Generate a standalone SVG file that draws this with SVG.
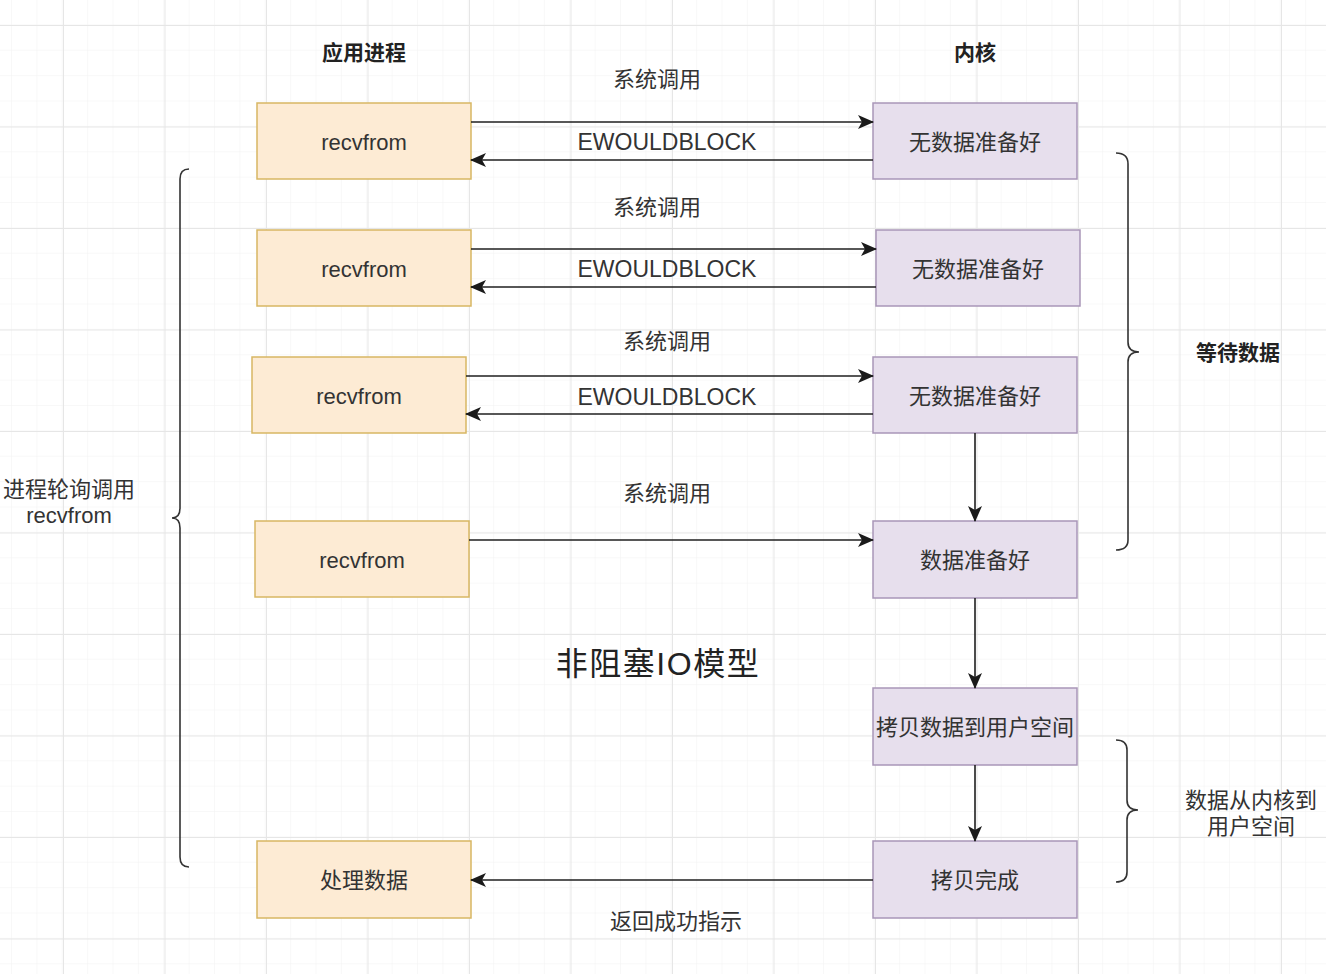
<svg xmlns="http://www.w3.org/2000/svg" width="1326" height="974" viewBox="0 0 1326 974">
<defs>
<pattern id="minor" x="12" y="0" width="25.375" height="25.375" patternUnits="userSpaceOnUse">
<path d="M25.375 0 V25.375 M0 25.375 H25.375" fill="none" stroke="#f2f2f2" stroke-width="1"/>
</pattern>
<pattern id="major" x="-38.5" y="25" width="101.5" height="101.5" patternUnits="userSpaceOnUse">
<path d="M0.5 0 V101.5 M0 0.5 H101.5" fill="none" stroke="#e6e6e6" stroke-width="1"/>
</pattern>
<marker id="arr" viewBox="0 0 16 14" refX="15" refY="7" markerWidth="16" markerHeight="14" markerUnits="userSpaceOnUse" orient="auto">
<path d="M0,0 L16,7 L0,14 L4,7 Z" fill="#1a1a1a"/>
</marker>
<style>
.app rect{fill:#fdebd4;stroke:#d7b763;stroke-width:1.5}
.ker rect{fill:#e7dfed;stroke:#a996b8;stroke-width:1.5}
text{font-family:"Liberation Sans","Noto Sans CJK SC",sans-serif;fill:#333;text-anchor:middle;dominant-baseline:central}
.n{font-size:22px}
.lbl{font-size:22px}
.big{font-size:23px}
.hd{font-size:21px;font-weight:bold;fill:#222}
.title{font-size:32px;letter-spacing:1.5px;fill:#222}
.edge{fill:none;stroke:#1f1f1f;stroke-width:1.6}
.brace{fill:none;stroke:#333;stroke-width:1.6}
</style>
</defs>
<rect width="1326" height="974" fill="#ffffff"/>
<rect width="1326" height="974" fill="url(#minor)"/>
<rect width="1326" height="974" fill="url(#major)"/>

<text class="hd" x="364" y="52">应用进程</text>
<text class="hd" x="975" y="52">内核</text>

<g id="app1" class="app"><rect x="257" y="103" width="214" height="76"/><text class="n" x="364" y="142">recvfrom</text></g>
<g id="app2" class="app"><rect x="257" y="230" width="214" height="76"/><text class="n" x="364" y="269">recvfrom</text></g>
<g id="app3" class="app"><rect x="252" y="357" width="214" height="76"/><text class="n" x="359" y="396">recvfrom</text></g>
<g id="app4" class="app"><rect x="255" y="521" width="214" height="76"/><text class="n" x="362" y="560">recvfrom</text></g>
<g id="app5" class="app"><rect x="257" y="841" width="214" height="77"/><text class="n" x="364" y="880">处理数据</text></g>

<g id="k1" class="ker"><rect x="873" y="103" width="204" height="76"/><text class="n" x="975" y="142">无数据准备好</text></g>
<g id="k2" class="ker"><rect x="876" y="230" width="204" height="76"/><text class="n" x="978" y="269">无数据准备好</text></g>
<g id="k3" class="ker"><rect x="873" y="357" width="204" height="76"/><text class="n" x="975" y="396">无数据准备好</text></g>
<g id="k4" class="ker"><rect x="873" y="521" width="204" height="77"/><text class="n" x="975" y="560">数据准备好</text></g>
<g id="k5" class="ker"><rect x="873" y="688" width="204" height="77"/><text class="n" x="975" y="727">拷贝数据到用户空间</text></g>
<g id="k6" class="ker"><rect x="873" y="841" width="204" height="77"/><text class="n" x="975" y="880">拷贝完成</text></g>

<g id="connectors">
<path class="edge" d="M471 122 H873" marker-end="url(#arr)"/>
<path class="edge" d="M873 160 H471" marker-end="url(#arr)"/>
<path class="edge" d="M471 249 H876" marker-end="url(#arr)"/>
<path class="edge" d="M876 287 H471" marker-end="url(#arr)"/>
<path class="edge" d="M466 376 H873" marker-end="url(#arr)"/>
<path class="edge" d="M873 414 H466" marker-end="url(#arr)"/>
<path class="edge" d="M469 540 H873" marker-end="url(#arr)"/>
<path class="edge" d="M975 433 V521" marker-end="url(#arr)"/>
<path class="edge" d="M975 598 V688" marker-end="url(#arr)"/>
<path class="edge" d="M975 765 V841" marker-end="url(#arr)"/>
<path class="edge" d="M873 880 H471" marker-end="url(#arr)"/>
<text class="lbl" x="657" y="79">系统调用</text>
<text class="big" x="667" y="142">EWOULDBLOCK</text>
<text class="lbl" x="657" y="207">系统调用</text>
<text class="big" x="667" y="269">EWOULDBLOCK</text>
<text class="lbl" x="667" y="341">系统调用</text>
<text class="big" x="667" y="397">EWOULDBLOCK</text>
<text class="lbl" x="667" y="493">系统调用</text>
<text class="lbl" x="676" y="921">返回成功指示</text>
</g>

<text class="title" x="658" y="664">非阻塞IO模型</text>

<g id="brace-left">
<path class="brace" d="M189 169 Q180 169 180 179 V508 Q180 518 172 518 Q180 518 180 528 V857 Q180 867 189 867"/>
<text class="lbl" x="69" y="489">进程轮询调用</text>
<text class="lbl" x="69" y="515">recvfrom</text>
</g>
<g id="brace-wait">
<path class="brace" d="M1116 153 Q1128 153 1128 164 V342 Q1128 352 1139 352 Q1128 352 1128 362 V540 Q1128 550 1116 550"/>
<text class="hd" x="1238" y="352">等待数据</text>
</g>
<g id="brace-copy">
<path class="brace" d="M1116 740 Q1127 740 1127 750 V800 Q1127 810 1138 810 Q1127 810 1127 820 V872 Q1127 882 1116 882"/>
<text class="lbl" x="1251" y="800">数据从内核到</text>
<text class="lbl" x="1251" y="826">用户空间</text>
</g>
</svg>
